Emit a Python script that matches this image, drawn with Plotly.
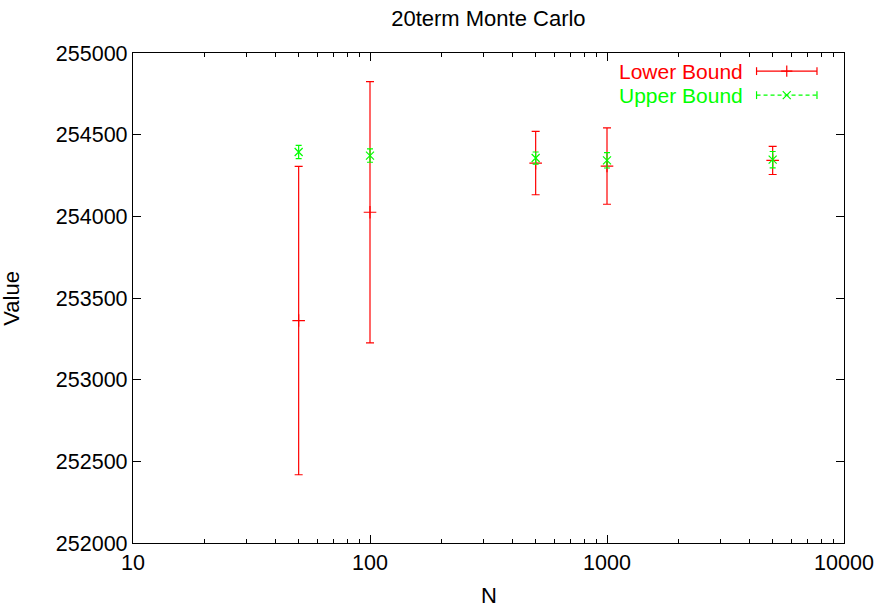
import plotly.graph_objects as go

# Sample sizes and the two bound estimates with their error half-widths
n_values = [50, 100, 500, 1000, 5000]
lower_vals = [253362, 254025, 254326, 254308, 254342]
lower_err = [944, 800, 194, 234, 86]
upper_vals = [254394, 254372, 254357, 254343, 254347]
upper_err = [41, 41, 37, 47, 50]

y_ticks = [252000, 252500, 253000, 253500, 254000, 254500, 255000]
x_ticks = [10, 100, 1000, 10000]
x_minor = [m * d for d in (10, 100, 1000) for m in range(2, 10)]

RED = "#ff0000"
GREEN = "#00ff00"
FONT = "Liberation Sans, Arial, sans-serif"

fig = go.Figure()

fig.add_trace(go.Scatter(
    x=n_values, y=lower_vals, mode="markers", name="Lower Bound",
    marker=dict(symbol="cross-thin-open", size=9, color=RED,
                line=dict(color=RED, width=1.2)),
    error_y=dict(type="data", array=lower_err, visible=True,
                 color=RED, thickness=1.2, width=4),
    showlegend=False,
))
fig.add_trace(go.Scatter(
    x=n_values, y=upper_vals, mode="markers", name="Upper Bound",
    marker=dict(symbol="x-thin-open", size=8, color=GREEN,
                line=dict(color=GREEN, width=1.2)),
    error_y=dict(type="data", array=upper_err, visible=True,
                 color=GREEN, thickness=1.2, width=3),
    showlegend=False,
))

# Legend samples drawn on an overlay axis spanning the plot area (0..1)
legend_rows = [("Lower Bound", RED, "solid", "cross-thin-open", 0.963),
               ("Upper Bound", GREEN, "dash", "x-thin-open", 0.914)]
x_left, x_right = 0.877, 0.962
for label, color, dash, symbol, yy in legend_rows:
    fig.add_trace(go.Scatter(
        x=[x_left, x_right], y=[yy, yy], mode="lines",
        line=dict(color=color, width=1.2, dash="4px,3px" if dash == "dash" else "solid"),
        xaxis="x2", yaxis="y2", showlegend=False, hoverinfo="skip",
    ))
    fig.add_trace(go.Scatter(
        x=[(x_left + x_right) / 2], y=[yy], mode="markers",
        marker=dict(symbol=symbol, size=8, color=color, line=dict(color=color, width=1.2)),
        xaxis="x2", yaxis="y2", showlegend=False, hoverinfo="skip",
    ))
    for xe in (x_left, x_right):
        fig.add_trace(go.Scatter(
            x=[xe, xe], y=[yy - 0.008, yy + 0.008], mode="lines",
            line=dict(color=color, width=1.2),
            xaxis="x2", yaxis="y2", showlegend=False, hoverinfo="skip",
        ))
    fig.add_annotation(
        xref="x2", yref="y2", x=0.861, y=yy, text=label, showarrow=False,
        xanchor="right", yanchor="middle",
        font=dict(family=FONT, size=21, color=color),
    )

# Axis titles placed in paper coordinates
fig.add_annotation(
    xref="paper", yref="paper", x=0.5, y=-0.108, text="N", showarrow=False,
    xanchor="center", yanchor="middle", font=dict(family=FONT, size=22),
)
fig.add_annotation(
    xref="paper", yref="paper", x=-0.172, y=0.5, text="Value", showarrow=False,
    xanchor="center", yanchor="middle", textangle=-90,
    font=dict(family=FONT, size=22),
)

fig.update_layout(
    width=884, height=610,
    margin=dict(l=133, r=40, t=53, b=67),
    paper_bgcolor="white", plot_bgcolor="white",
    font=dict(family=FONT, size=21, color="black"),
    title=dict(text="20term Monte Carlo", x=0.5525, xanchor="center",
               y=0.97, yanchor="middle", font=dict(family=FONT, size=22)),
    xaxis=dict(
        type="log", range=[1, 4], tickvals=x_ticks,
        ticktext=[str(v) for v in x_ticks],
        ticks="inside", ticklen=8, tickwidth=1, tickcolor="black",
        minor=dict(tickvals=x_minor, ticks="inside", ticklen=4,
                   tickwidth=1, tickcolor="black", showgrid=False),
        showline=True, linecolor="black", linewidth=1.3, mirror="allticks",
        showgrid=False, zeroline=False, automargin=False,
        tickfont=dict(size=21.5),
    ),
    yaxis=dict(
        range=[252000, 255000], tickvals=y_ticks,
        ticktext=[str(v) for v in y_ticks],
        ticks="inside", ticklen=8, tickwidth=1, tickcolor="black",
        showline=True, linecolor="black", linewidth=1.3, mirror="allticks",
        showgrid=False, zeroline=False, automargin=False,
        tickfont=dict(size=21.5),
    ),
    xaxis2=dict(overlaying="x", range=[0, 1], visible=False, fixedrange=True),
    yaxis2=dict(overlaying="y", range=[0, 1], visible=False, fixedrange=True),
)

fig.write_html("out.html")
